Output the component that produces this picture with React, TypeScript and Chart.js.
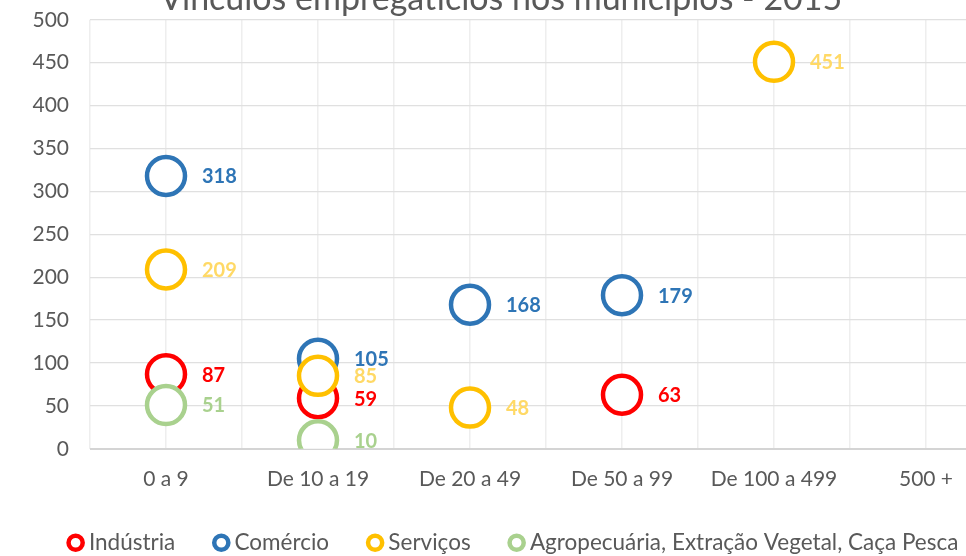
import React, { useEffect, useRef } from 'react';
import { Chart, registerables } from 'chart.js';

Chart.register(...registerables);

const categories = ['0 a 9', 'De 10 a 19', 'De 20 a 49', 'De 50 a 99', 'De 100 a 499', '500 +'];
const seriesNames = ['Indústria', 'Comércio', 'Serviços', 'Agropecuária, Extração Vegetal, Caça Pesca'];
const industria: (number | null)[] = [87, 59, null, 63, null, null];
const comercio: (number | null)[] = [318, 105, 168, 179, null, null];
const servicos: (number | null)[] = [209, 85, 48, null, 451, null];
const agro: (number | null)[] = [51, 10, null, null, null, null];
const markerColors = ['#FF0000', '#2E75B6', '#FFC000', '#A9D18E'];
const labelColors = ['#FF0000', '#2E75B6', '#FFD966', '#A9D18E'];
const yTicks = { min: 0, max: 500, step: 50 };
const title = 'Vínculos empregatícios nos municípios - 2015';

const FONT = 'Lato, "Open Sans", sans-serif';

const toPoints = (arr: (number | null)[]) =>
  arr.map((v, i) => (v === null ? null : { x: i, y: v })).filter((p) => p !== null) as { x: number; y: number }[];

const valueLabels = {
  id: 'valueLabels',
  afterDatasetsDraw(chart: any) {
    const ctx = chart.ctx;
    chart.data.datasets.forEach((ds: any, i: number) => {
      const meta = chart.getDatasetMeta(i);
      meta.data.forEach((el: any, j: number) => {
        const raw = ds.data[j];
        ctx.save();
        ctx.font = `bold 20px ${FONT}`;
        ctx.fillStyle = labelColors[i];
        ctx.textBaseline = 'middle';
        ctx.textAlign = 'left';
        ctx.fillText(String(raw.y), el.x + 36, el.y + 1);
        ctx.restore();
      });
    });
  },
};

const legendShift = {
  id: 'legendShift',
  afterLayout(chart: any) {
    if (chart.legend) {
      chart.legend.left += 15;
      chart.legend.right += 15;
    }
  },
};

export default function App() {
  const ref = useRef<HTMLCanvasElement | null>(null);

  useEffect(() => {
    if (!ref.current) return;
    const all = [industria, comercio, servicos, agro];
    const chart = new Chart(ref.current, {
      type: 'scatter',
      data: {
        datasets: all.map((arr, i) => ({
          label: seriesNames[i],
          data: toPoints(arr),
          borderColor: markerColors[i],
          backgroundColor: '#FFFFFF',
          borderWidth: 4.5,
          pointRadius: 19,
          pointHoverRadius: 19,
          pointStyle: 'circle',
          order: 3 - i,
        })),
      },
      plugins: [valueLabels, legendShift],
      options: {
        responsive: false,
        animation: false,
        devicePixelRatio: 1,
        layout: { autoPadding: false, padding: { left: 0, right: 4, top: 0, bottom: 0 } },
        events: [],
        plugins: {
          tooltip: { enabled: false },
          title: {
            display: true,
            text: title,
            color: '#595959',
            font: { family: FONT, size: 34, weight: 'normal' },
            padding: { top: 0, bottom: 0 },
          },
          legend: {
            position: 'bottom',
            labels: {
              usePointStyle: true,
              boxWidth: 4,
              boxHeight: 10,
              padding: 44,
              color: '#595959',
              font: { family: FONT, size: 22.5 },
              sort: (a: any, b: any) => a.datasetIndex - b.datasetIndex,
            },
          },
        },
        scales: {
          x: {
            type: 'linear',
            min: -0.5,
            max: categories.length - 0.5,
            afterFit: (s: any) => {
              s.height = 38.7;
              s.paddingLeft = 0;
              s.paddingRight = 0;
            },
            ticks: {
              stepSize: 0.5,
              autoSkip: false,
              maxRotation: 0,
              padding: 18,
              color: '#595959',
              font: { family: FONT, size: 21 },
              callback: (v: any) => (Number.isInteger(v) ? categories[v] : ''),
            },
            grid: { color: '#EEEEEE', lineWidth: 1.5, drawTicks: false },
            border: { display: false },
          },
          y: {
            min: yTicks.min,
            max: yTicks.max,
            afterFit: (s: any) => {
              s.width = 90;
            },
            ticks: {
              stepSize: yTicks.step,
              padding: 21,
              color: '#595959',
              font: { family: FONT, size: 21 },
            },
            grid: {
              color: (c: any) => (c.tick && c.tick.value === 0 ? '#D4D4D4' : '#E0E0E0'),
              lineWidth: (c: any) => (c.tick && c.tick.value === 0 ? 2 : 1.2),
              drawTicks: false,
            },
            border: { display: false },
          },
        },
      } as any,
    });
    return () => chart.destroy();
  }, []);

  return (
    <div style={{ position: 'fixed', left: 0, top: 0, width: 966, height: 556, overflow: 'hidden', background: '#fff' }}>
      <div style={{ position: 'absolute', left: 0, top: -21, width: 1006, height: 585 }}>
        <canvas ref={ref} width={1006} height={585} style={{ display: 'block' }} />
      </div>
    </div>
  );
}
